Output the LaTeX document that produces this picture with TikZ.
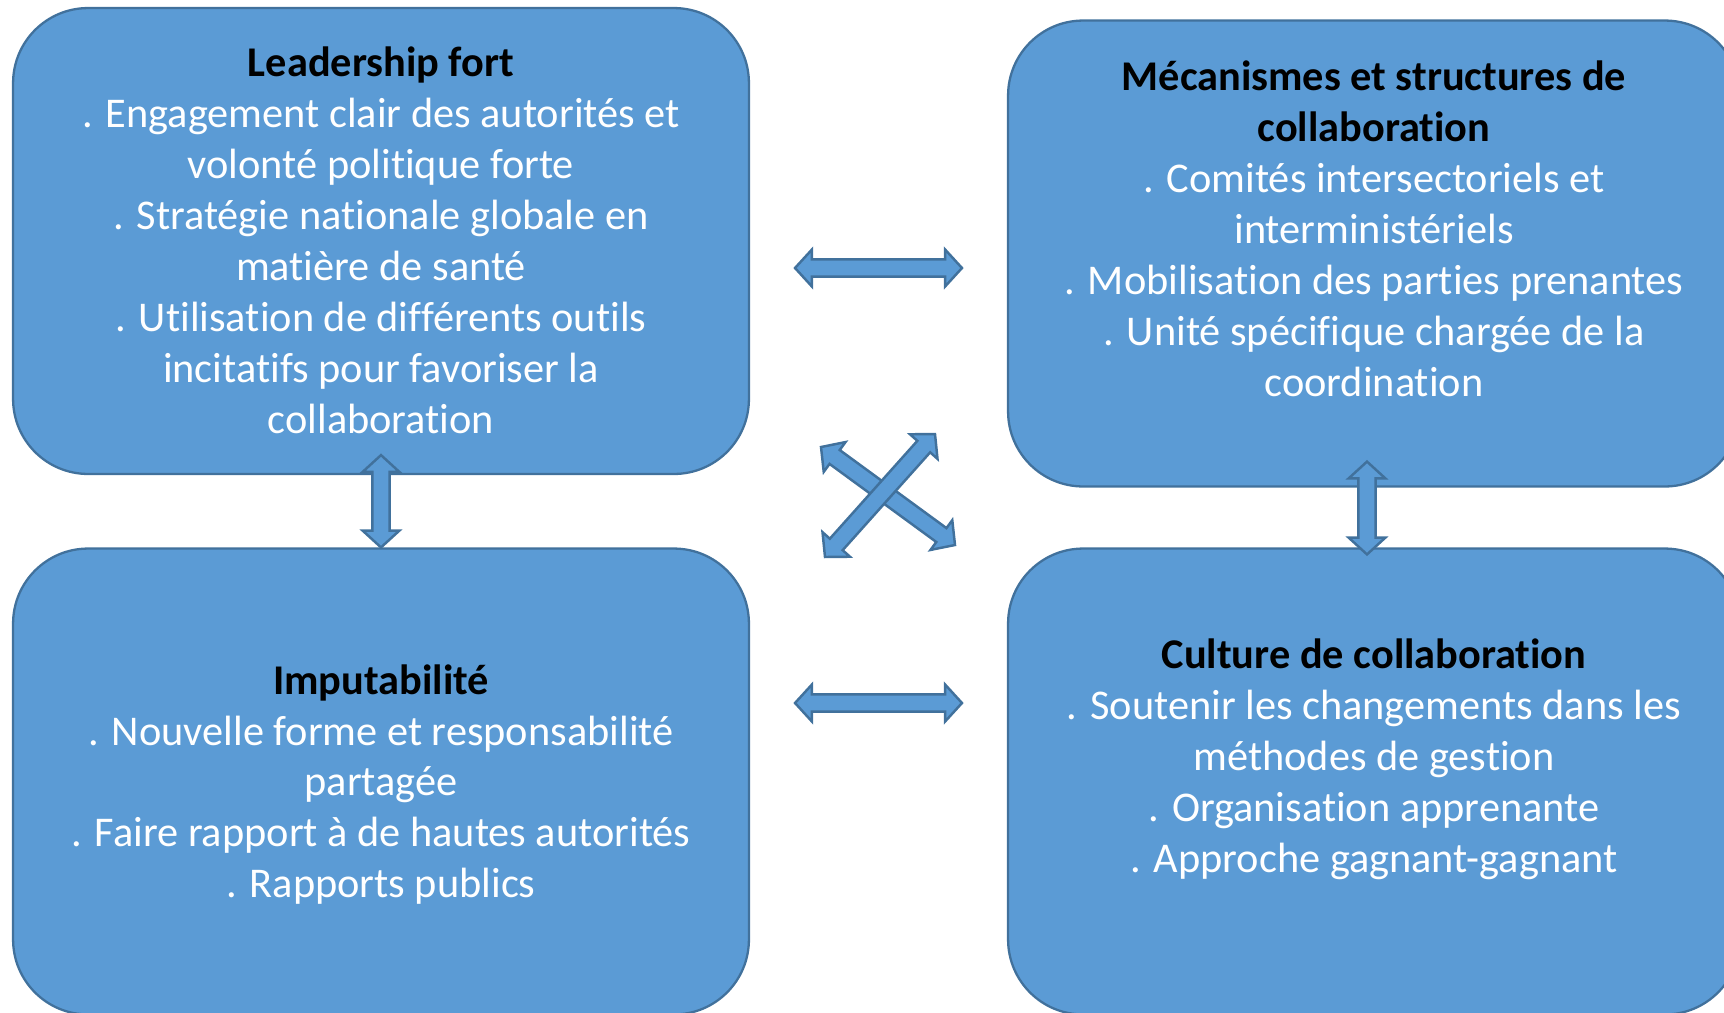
\documentclass[tikz,border=0pt]{standalone}
\usepackage{fontspec}
\setmainfont{Carlito}[Renderer=OpenType, Ligatures=CommonOff]
\usetikzlibrary{calc}

\definecolor{boxfill}{RGB}{91,155,213}
\definecolor{boxline}{RGB}{65,113,156}

% block arrow sizes
\newcommand{\flL}{9.6pt}
\newcommand{\flH}{10.5pt}
\newcommand{\flS}{4.9pt}

\tikzset{
  boite/.style={draw=boxline, fill=boxfill, line width=1.3pt, rounded corners=1.5cm,
    minimum width=14.72cm, minimum height=9.32cm, inner sep=0pt},
  texte/.style={text=white, align=center, inner sep=0pt,
    font=\fontsize{24.1}{29}\selectfont},
  fleche/.style={draw=boxline, fill=boxfill, line width=1.4pt, line join=miter},
}

% double block arrow between two named points
\newcommand{\fleche}[2]{%
  \draw[fleche] (#1)
    -- ($(#1)!\flL!(#2)!\flH!90:(#2)$) -- ($(#1)!\flL!(#2)!\flS!90:(#2)$)
    -- ($(#2)!\flL!(#1)!\flS!-90:(#1)$) -- ($(#2)!\flL!(#1)!\flH!-90:(#1)$)
    -- (#2)
    -- ($(#2)!\flL!(#1)!\flH!90:(#1)$) -- ($(#2)!\flL!(#1)!\flS!90:(#1)$)
    -- ($(#1)!\flL!(#2)!\flS!-90:(#2)$) -- ($(#1)!\flL!(#2)!\flH!-90:(#2)$)
    -- cycle;}

\newcommand{\tit}[1]{{\color{black}\bfseries #1}}

\begin{document}
\begin{tikzpicture}[x=0.02cm, y=-0.02cm]
    \useasboundingbox (0,0) rectangle (1724,1012);

    % Boxes
    \node[boite] (lead) at (381,241) {};
    \node[boite, minimum width=14.64cm] (meca) at (1374,253.5) {};
    \node[boite] (imput) at (381,781.5) {};
    \node[boite, minimum width=14.64cm] (cult) at (1374,781.5) {};

    % Texts
    \node[texte] (lead-t) at ($(lead.center)+(0,-1)$) {\tit{Leadership fort}\\
        . Engagement clair des autorités et\\ volonté politique forte\\
        . Stratégie nationale globale en\\ matière de santé\\
        . Utilisation de différents outils\\ incitatifs pour favoriser la\\ collaboration};
    \node[texte] (meca-t) at ($(meca.center)+(0,-25)$) {\tit{Mécanismes et structures de}\\
        \tit{collaboration}\\
        . Comités intersectoriels et\\ interministériels\\
        . Mobilisation des parties prenantes\\
        . Unité spécifique chargée de la\\ coordination};
    \node[texte] (imput-t) at ($(imput.center)+(0,3)$) {\tit{Imputabilité}\\
        . Nouvelle forme et responsabilité\\ partagée\\
        . Faire rapport à de hautes autorités\\
        . Rapports publics};
    \node[texte] (cult-t) at ($(cult.center)+(0,-22)$) {\tit{Culture de collaboration}\\
        . Soutenir les changements dans les\\ méthodes de gestion\\
        . Organisation apprenante\\
        . Approche gagnant-gagnant};

    % Arrow ends
    \coordinate (hg) at (795,268);
    \coordinate (hd) at (962,268);
    \coordinate (bg) at (795,703);
    \coordinate (bd) at (962,703);
    \coordinate (d1a) at (821,447);
    \coordinate (d1b) at (955,545);
    \coordinate (d2a) at (825,557);
    \coordinate (d2b) at (935,434);
    \coordinate (vg) at ($(lead.south)+(0,-20)$);
    \coordinate (vd) at ($(meca.south)+(-7,-26)$);
    \coordinate (vd2) at ($(cult.north)+(-7,7)$);

    % Arrows
    \fleche{hg}{hd}
    \fleche{bg}{bd}
    \fleche{d1a}{d1b}
    \fleche{d2a}{d2b}
    \fleche{vg}{imput.north}
    \fleche{vd}{vd2}

\end{tikzpicture}
\end{document}
